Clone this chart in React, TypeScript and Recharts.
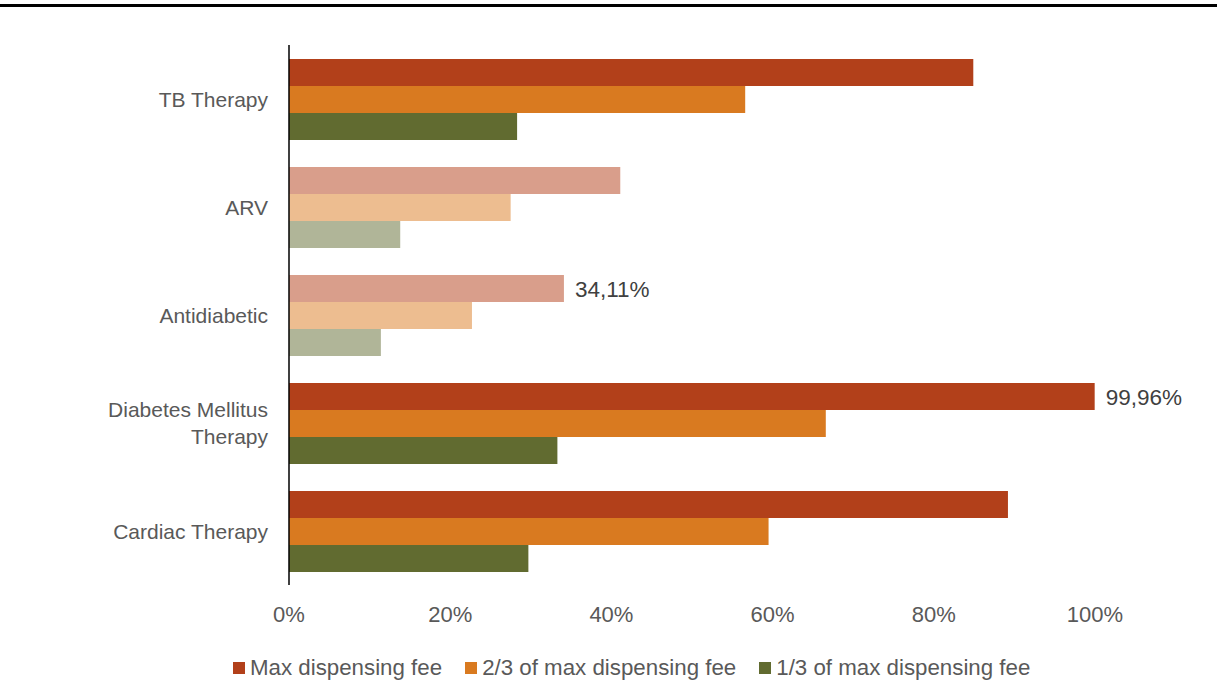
import React from "react";
import { BarChart, Bar, XAxis, YAxis, Cell, LabelList } from "recharts";

const categories = ["TB Therapy", "ARV", "Antidiabetic", "Diabetes Mellitus Therapy", "Cardiac Therapy"];
const maxFee = [84.9, 41.1, 34.11, 99.96, 89.2];
const twoThirdsFee = [56.6, 27.5, 22.7, 66.6, 59.5];
const oneThirdFee = [28.3, 13.8, 11.4, 33.3, 29.7];
const maxLabels = ["", "", "34,11%", "99,96%", ""];
const xTicks = [0, 20, 40, 60, 80, 100];
const seriesNames = ["Max dispensing fee", "2/3 of max dispensing fee", "1/3 of max dispensing fee"];
const dimmedCategories = ["ARV", "Antidiabetic"];

const strongColors = ["#B2401A", "#D97A20", "#616B30"];
const fadedColors = ["#D99E8B", "#EDBD90", "#B0B598"];

const data = categories.map((name, i) => ({
  name,
  max: maxFee[i],
  twoThirds: twoThirdsFee[i],
  oneThird: oneThirdFee[i],
  label: maxLabels[i],
}));

const FONT = "'Liberation Sans', Arial, sans-serif";
const TEXT = "#595959";

function wrap(label: string, maxChars: number): string[] {
  const words = label.split(" ");
  const lines: string[] = [];
  let cur = "";
  for (const w of words) {
    const next = cur ? cur + " " + w : w;
    if (next.length > maxChars && cur) {
      lines.push(cur);
      cur = w;
    } else cur = next;
  }
  if (cur) lines.push(cur);
  return lines;
}

const YTick = (props: any) => {
  const { x, y, payload } = props;
  const lines = wrap(String(payload.value), 18);
  const lh = 27;
  const start = y - ((lines.length - 1) * lh) / 2;
  return (
    <text x={x} y={start} textAnchor="end" fill={TEXT} fontSize={21} fontFamily={FONT}>
      {lines.map((l, i) => (
        <tspan key={i} x={x} y={start + i * lh} dominantBaseline="central">
          {l}
        </tspan>
      ))}
    </text>
  );
};

const keys = ["max", "twoThirds", "oneThird"];

export default function App() {
  return (
    <div style={{ position: "absolute", left: 0, top: 0, width: 1217, height: 690, background: "#fff", fontFamily: FONT }}>
      <div style={{ position: "absolute", left: 0, top: 4, width: 1217, height: 3, background: "#000" }} />
      <BarChart
        width={1217}
        height={690}
        data={data}
        layout="vertical"
        margin={{ top: 45, right: 122, bottom: 65, left: 0 }}
        barCategoryGap="13%"
        barGap={0}
      >
        <XAxis
          type="number"
          domain={[0, 100]}
          ticks={xTicks}
          tickFormatter={(v: number) => `${v}%`}
          axisLine={false}
          tickLine={false}
          tickSize={0}
          tickMargin={21}
          height={40}
          tick={{ fill: TEXT, fontSize: 22, fontFamily: FONT }}
        />
        <YAxis
          type="category"
          dataKey="name"
          width={289}
          axisLine={{ stroke: "#000", strokeWidth: 1.5 }}
          tickLine={false}
          tickSize={0}
          tickMargin={21}
          tick={<YTick />}
        />
        {keys.map((k, si) => (
          <Bar key={k} dataKey={k} name={seriesNames[si]} fill={strongColors[si]} isAnimationActive={false}>
            {data.map((d) => (
              <Cell key={d.name} fill={dimmedCategories.includes(d.name) ? fadedColors[si] : strongColors[si]} />
            ))}
            {si === 0 && (
              <LabelList
                dataKey="label"
                position="right"
                offset={11}
                fill="#404040"
                fontSize={22.5}
                fontFamily={FONT}
              />
            )}
          </Bar>
        ))}
      </BarChart>
      <div
        style={{
          position: "absolute",
          left: 233,
          top: 655,
          display: "flex",
          alignItems: "center",
          fontSize: 22.3,
          color: TEXT,
          whiteSpace: "nowrap",
        }}
      >
        {seriesNames.map((n, i) => (
          <div key={n} style={{ display: "flex", alignItems: "center", marginRight: 23 }}>
            <div style={{ width: 12, height: 12, background: strongColors[i], marginRight: 5 }} />
            <span>{n}</span>
          </div>
        ))}
      </div>
    </div>
  );
}
